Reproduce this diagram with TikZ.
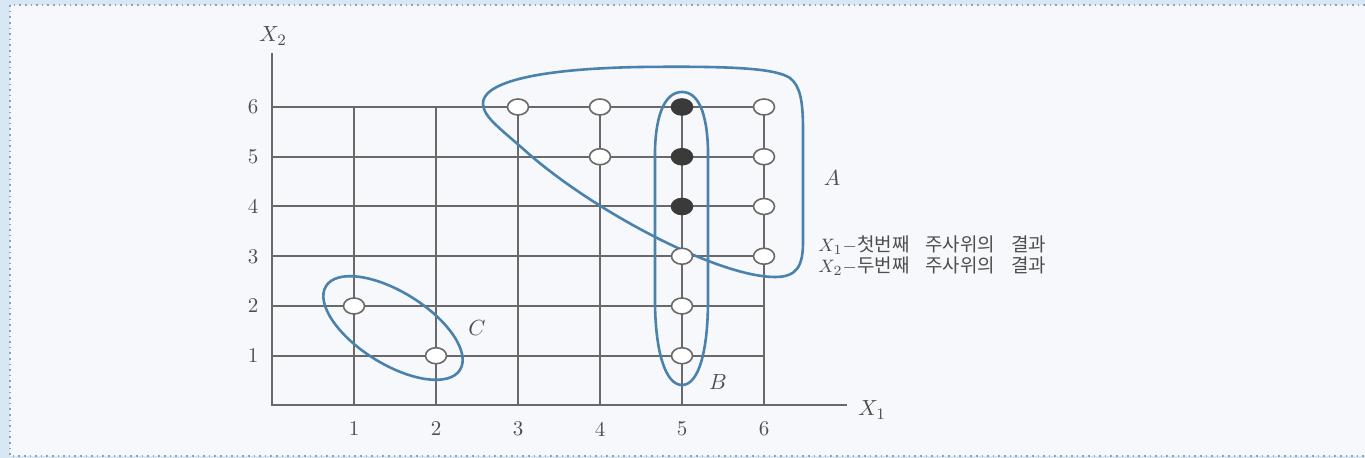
\documentclass[tikz,border=0pt]{standalone}
\usepackage{fontspec}
\newfontfamily\kr{Noto Sans CJK KR}
\usetikzlibrary{shapes.geometric}
\definecolor{bgc}{RGB}{246,248,251}
\definecolor{edgec}{RGB}{216,231,244}
\definecolor{framec}{RGB}{140,160,185}
\definecolor{gridc}{RGB}{105,105,105}
\definecolor{setc}{RGB}{74,130,172}
\definecolor{txtc}{RGB}{78,78,78}
\definecolor{dotc}{RGB}{58,58,58}
\begin{document}
\begin{tikzpicture}[x=0.5pt,y=-0.5pt,
  gridline/.style={draw=gridc,line width=1pt},
  setline/.style={draw=setc,line width=1.3pt},
  opendot/.style={ellipse,draw=gridc,fill=white,line width=0.8pt,minimum width=10.5pt,minimum height=8pt,inner sep=0pt},
  fulldot/.style={opendot,fill=dotc,draw=dotc},
  ticklbl/.style={text=txtc,font=\fontsize{10.5}{12}\selectfont,inner sep=0pt},
  setlbl/.style={text=txtc,font=\fontsize{11}{12}\selectfont,inner sep=0pt},
  legend/.style={text=txtc,font=\fontsize{9.5}{10}\selectfont,inner sep=0pt,anchor=west}]
\useasboundingbox (0,0) rectangle (1365,458);
\fill[edgec] (0,0) rectangle (1365,458);
\fill[bgc] (10,5) rectangle (1365,456);
\draw[framec,dotted,line width=0.8pt] (1365,5) -- (10,5) -- (10,456) -- (1365,456);

% grid
\foreach \j in {1,...,6}
  \draw[gridline] (272,{405.5-49.75*\j}) -- (764,{405.5-49.75*\j});
\foreach \i in {1,...,6}
  \draw[gridline] ({272+82*\i},405.5) -- ({272+82*\i},107);
% axes
\coordinate (o) at (272,405.5);
\coordinate (yend) at (272,53);
\coordinate (xend) at (847,405.5);
\draw[gridline] (yend) -- (o) -- (xend);
\node[setlbl] (xlab) at (872,410) {$X_1$};
\node[setlbl] (ylab) at (273,36) {$X_2$};
% tick labels
\foreach \j in {1,...,6}
  \node[ticklbl] (ty\j) at (253,{405.5-49.75*\j}) {\j};
\foreach \i in {1,...,6}
  \node[ticklbl] (tx\i) at ({272+82*\i},429) {\i};

% set A
\draw[setline] (483,104) .. controls (482,84) and (530,69) .. (640,67)
  .. controls (730,66) and (775,68) .. (790,78)
  .. controls (800,86) and (803,100) .. (803,130)
  -- (803,242) .. controls (803,266) and (797,277) .. (775,277)
  .. controls (720,277) and (600,215) .. (530,155)
  .. controls (500,128) and (484,118) .. cycle;
% set B
\draw[setline] (682,92) .. controls (698,92) and (707,112) .. (708,150)
  -- (708,300) .. controls (708,350) and (699,385) .. (682,385)
  .. controls (665,385) and (655,350) .. (655,300)
  -- (655,150) .. controls (656,112) and (666,92) .. cycle;
% set C
\draw[setline,rotate around={-32:(393,328)}] (393,328) ellipse [x radius=79, y radius=36];

\node[setlbl] (la) at (832,178) {$A$};
\node[setlbl] (lb) at (718,382) {$B$};
\node[setlbl] (lc) at (477,328) {$C$};

% outcome points
\foreach \i/\j in {3/6,4/6,6/6,4/5,6/5,6/4,5/3,6/3,5/2,5/1,1/2,2/1}
  \node[opendot] (p\i\j) at ({272+82*\i},{405.5-49.75*\j}) {};
\foreach \j in {4,5,6}
  \node[fulldot] (p5\j) at ({272+82*5},{405.5-49.75*\j}) {};

% legend
\node[legend] (leg1) at (818,245) {$X_1{-}$\kr 첫번째\hspace{8pt}주사위의\hspace{8pt}결과};
\node[legend] (leg2) at (818,266) {$X_2{-}$\kr 두번째\hspace{8pt}주사위의\hspace{8pt}결과};
\end{tikzpicture}
\end{document}
